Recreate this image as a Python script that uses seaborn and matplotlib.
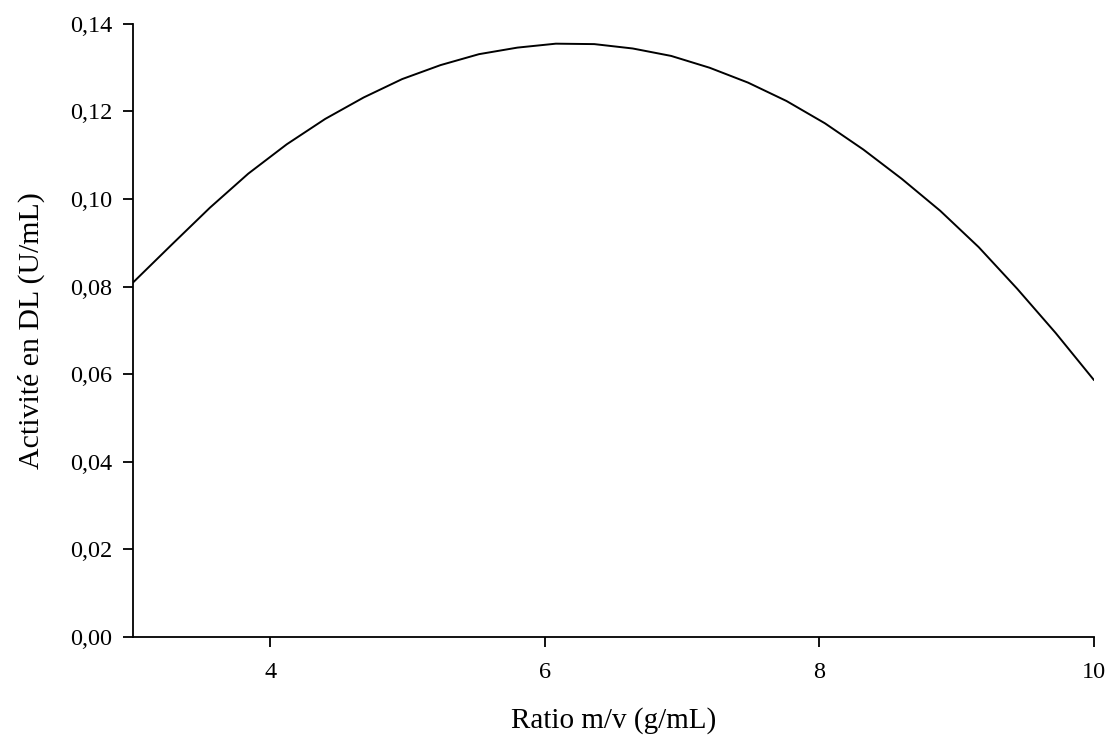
import matplotlib
matplotlib.use("Agg")
import matplotlib.pyplot as plt
import seaborn as sns
import pandas as pd
from matplotlib.ticker import FuncFormatter

# Data
ratio = [3.00, 3.28, 3.56, 3.84, 4.12, 4.40, 4.68, 4.96, 5.24, 5.52,
         5.80, 6.08, 6.36, 6.64, 6.92, 7.20, 7.48, 7.76, 8.04, 8.32,
         8.60, 8.88, 9.16, 9.44, 9.72, 10.00]
activite = [0.0809, 0.0895, 0.0980, 0.1058, 0.1125, 0.1183, 0.1232, 0.1274, 0.1306, 0.1331,
            0.1346, 0.1355, 0.1354, 0.1344, 0.1327, 0.1300, 0.1266, 0.1224, 0.1173, 0.1113,
            0.1046, 0.0973, 0.0890, 0.0795, 0.0694, 0.0586]
x_ticks = [4, 6, 8, 10]
y_ticks = [0.00, 0.02, 0.04, 0.06, 0.08, 0.10, 0.12, 0.14]

df = pd.DataFrame({"ratio": ratio, "activite": activite})

sns.set_theme(style="ticks")
plt.rcParams['font.family'] = ['Liberation Serif', 'DejaVu Serif']

fig = plt.figure(figsize=(11.1, 7.38), dpi=100)
ax = fig.add_axes([0.1198, 0.1375, 0.8658, 0.83])

sns.lineplot(data=df, x="ratio", y="activite", ax=ax, color="black",
             linewidth=1.4, estimator=None, sort=False)

ax.set_xlim(3, 10)
ax.set_ylim(0, 0.14)
ax.set_xticks(x_ticks)
ax.set_yticks(y_ticks)
ax.xaxis.set_major_formatter(FuncFormatter(lambda v, p: f"{v:g}"))
ax.yaxis.set_major_formatter(FuncFormatter(lambda v, p: f"{v:.2f}".replace(".", ",")))

for s in ["top", "right"]:
    ax.spines[s].set_visible(False)
for s in ["left", "bottom"]:
    ax.spines[s].set_color("black")
    ax.spines[s].set_linewidth(1.3)

ax.tick_params(axis="both", direction="out", length=7, width=1.3, colors="black",
               labelsize=17.5)
ax.tick_params(axis="x", pad=11)
ax.tick_params(axis="y", pad=8)

ax.set_xlabel("Ratio m/v (g/mL)", fontsize=21, labelpad=18, color="black")
ax.set_ylabel("Activité en DL (U/mL)", fontsize=21.5, labelpad=18, color="black")

fig.savefig("out.png", dpi=100, facecolor="white")
